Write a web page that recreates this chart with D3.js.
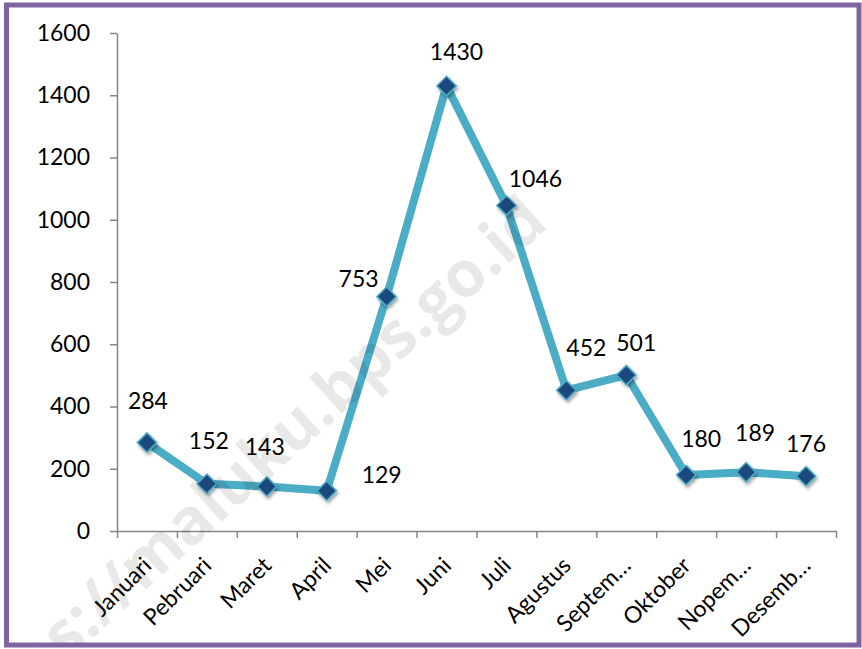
<!DOCTYPE html>
<html lang="id">
<head>
<meta charset="UTF-8">
<title>Grafik Bulanan</title>
<script src="https://cdn.jsdelivr.net/npm/d3@7"></script>
<style>
body { margin: 0; background: #fff; }
svg { display: block; font-family: Lato, "Open Sans", sans-serif; }
</style>
</head>
<body>
<svg></svg>
<script>
// data
const months = ["Januari", "Pebruari", "Maret", "April", "Mei", "Juni", "Juli",
  "Agustus", "Septem…", "Oktober", "Nopem…", "Desemb…"];
const values = [284, 152, 143, 129, 753, 1430, 1046, 452, 501, 180, 189, 176];
const yTicks = [0, 200, 400, 600, 800, 1000, 1200, 1400, 1600];
const watermark = "https://maluku.bps.go.id";

// label nudges (px) from each point, as placed in the original
const labelNudge = [[1, -42], [2, -43], [-2, -40], [55, -16], [-28, -18], [10, -34],
  [29, -27], [20, -43], [10, -32], [15, -36], [9, -39], [0, -33]];

const W = 862, H = 649;
const plotL = 117, plotR = 836, plotT = 33, plotB = 531;
const fs = 23;

const svg = d3.select("svg").attr("width", W).attr("height", H);

// shadow for markers
const defs = svg.append("defs");
const f = defs.append("filter").attr("id", "shadow")
  .attr("x", "-50%").attr("y", "-50%").attr("width", "200%").attr("height", "200%");
f.append("feDropShadow").attr("dx", 1.5).attr("dy", 2.5).attr("stdDeviation", 1.8)
  .attr("flood-color", "#000").attr("flood-opacity", 0.35);
defs.append("clipPath").attr("id", "inside")
  .append("rect").attr("x", 9).attr("y", 7).attr("width", 848).attr("height", 636);

let x = d3.scaleBand().domain(months).range([plotL, plotR]);
let xi = d3.scaleLinear().domain([0, months.length]).range([plotL, plotR]);
let y = d3.scaleLinear().domain([0, 1600]).range([plotB, plotT]);
const cx = m => x(m) + x.bandwidth() / 2;

// y axis
let yAxis = svg.append("g").attr("transform", "translate(" + plotL + ",0)")
  .call(d3.axisLeft(y).tickValues(yTicks).tickFormat(d3.format("d"))
    .tickSize(7).tickPadding(20).tickSizeOuter(0));
yAxis.select(".domain").attr("stroke", "#868686").attr("stroke-width", 1.5);
yAxis.selectAll(".tick line").attr("stroke", "#868686").attr("stroke-width", 1.5);
yAxis.selectAll("text").attr("font-size", fs).attr("fill", "#000").attr("font-family", "Lato");

// x axis, ticks between categories
let xAxis = svg.append("g").attr("transform", "translate(0," + plotB + ")")
  .call(d3.axisBottom(xi).tickValues(d3.range(months.length + 1)).tickFormat("").tickSize(7).tickSizeOuter(0));
xAxis.select(".domain").attr("stroke", "#868686").attr("stroke-width", 1.5);
xAxis.selectAll(".tick line").attr("stroke", "#868686").attr("stroke-width", 1.5);

svg.append("g").selectAll("text").data(months).enter().append("text")
  .attr("transform", d => "translate(" + (cx(d) + 6) + "," + (plotB + 36) + ") rotate(-45)")
  .attr("text-anchor", "end")
  .attr("font-size", fs)
  .attr("fill", "#000")
  .text(d => d);

// line + markers
const pts = months.map((m, i) => ({ m: m, v: values[i], i: i }));
svg.append("path")
  .attr("d", d3.line().x(d => cx(d.m)).y(d => y(d.v))(pts))
  .attr("fill", "none")
  .attr("stroke", "#4BACC6")
  .attr("stroke-width", 8)
  .attr("stroke-linejoin", "round");

const sym = d3.symbol().type(d3.symbolDiamond2).size(240);
svg.append("g").selectAll("path").data(pts).enter().append("path")
  .attr("d", sym)
  .attr("transform", d => "translate(" + cx(d.m) + "," + y(d.v) + ")")
  .attr("fill", "#1F497D")
  .attr("stroke", "#4BACC6")
  .attr("stroke-width", 1.5)
  .attr("filter", "url(#shadow)");

svg.append("g").selectAll("text").data(pts).enter().append("text")
  .attr("x", d => cx(d.m) + labelNudge[d.i][0])
  .attr("y", d => y(d.v) + labelNudge[d.i][1])
  .attr("dy", "0.36em")
  .attr("text-anchor", "middle")
  .attr("font-size", fs)
  .attr("fill", "#000")
  .text(d => d.v);

// watermark drawn on top, semi-transparent, kept inside the frame
svg.append("g").attr("clip-path", "url(#inside)")
  .append("text")
  .attr("transform", "translate(550,226) rotate(-42)")
  .attr("text-anchor", "end")
  .attr("font-size", 64)
  .attr("font-weight", "bold")
  .attr("font-family", "'Open Sans', Lato, sans-serif")
  .attr("fill", "rgba(0,0,0,0.09)")
  .text(watermark);

// frame
svg.append("rect")
  .attr("x", 6.5).attr("y", 5)
  .attr("width", 852.5).attr("height", 640)
  .attr("fill", "none")
  .attr("stroke", "#8064A2")
  .attr("stroke-width", 5);
</script>
</body>
</html>
